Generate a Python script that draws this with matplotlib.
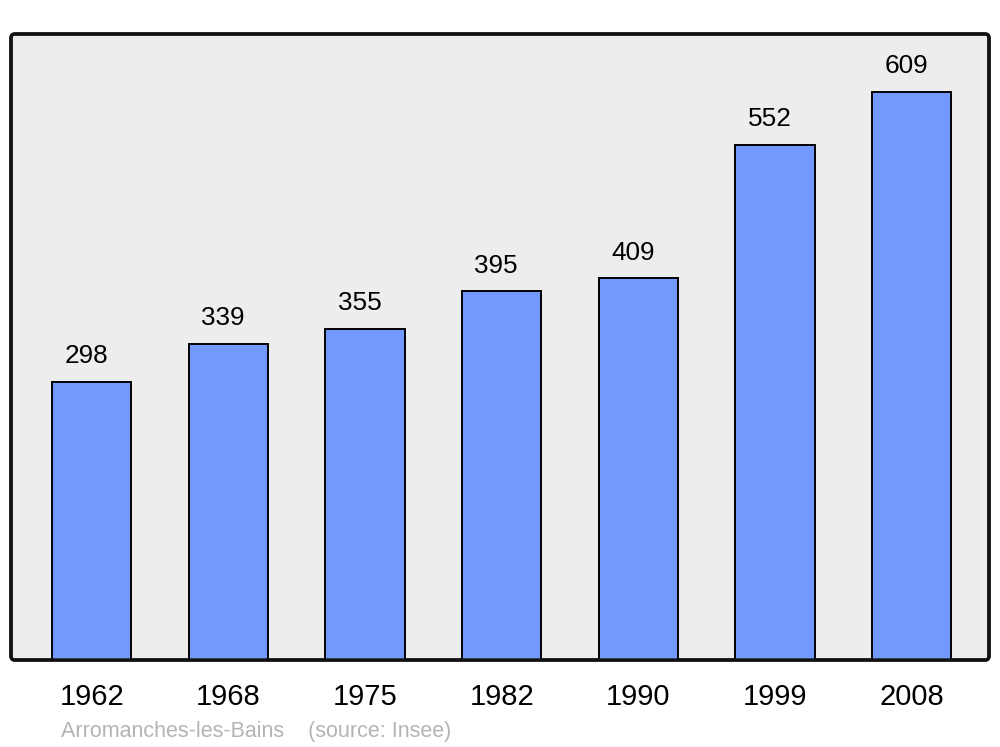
import matplotlib
matplotlib.use("Agg")
import matplotlib.pyplot as plt
from matplotlib.patches import FancyBboxPatch

years = ["1962", "1968", "1975", "1982", "1990", "1999", "2008"]
population = [298, 339, 355, 395, 409, 552, 609]
caption = "Arromanches-les-Bains    (source: Insee)"

plt.rcParams['font.family'] = ['Liberation Sans', 'DejaVu Sans']

fig = plt.figure(figsize=(10, 7.47), dpi=100)
ax = fig.add_axes([0.011, 87 / 747, 0.978, 626 / 747])
ax.set_facecolor('none')

frame = FancyBboxPatch((0, 0), 1, 1, boxstyle='round,pad=0,rounding_size=0.004',
                       mutation_aspect=978 / 626, transform=ax.transAxes,
                       facecolor='#ededed', edgecolor='#111111', linewidth=2.4,
                       clip_on=False, zorder=0)
ax.add_patch(frame)
frame_edge = FancyBboxPatch((0, 0), 1, 1, boxstyle='round,pad=0,rounding_size=0.004',
                            mutation_aspect=978 / 626, transform=ax.transAxes,
                            facecolor='none', edgecolor='#111111', linewidth=2.4,
                            clip_on=False, zorder=5)
ax.add_patch(frame_edge)

x = list(range(len(years)))
bars = ax.bar(x, population, width=0.58, color='#7399ff', edgecolor='black', linewidth=1.4, zorder=2)

for xi, v in zip(x, population):
    ax.annotate(str(v), (xi - 0.04, v), xytext=(0, 18.5), textcoords='offset points',
                ha='center', va='center', fontsize=18.8, color='black')

ax.set_xlim(-0.59, 6.565)
ax.set_ylim(0, 671)
ax.set_xticks(x)
ax.set_xticklabels(years, fontsize=21)
ax.tick_params(axis='x', length=0, pad=16.5)
ax.set_yticks([])
for s in ax.spines.values():
    s.set_visible(False)

fig.text(0.061, 1 - 731 / 747, caption, ha='left', va='center', fontsize=15.5, color='#b4b4b4')

fig.savefig('out.png', dpi=100, facecolor='white')
